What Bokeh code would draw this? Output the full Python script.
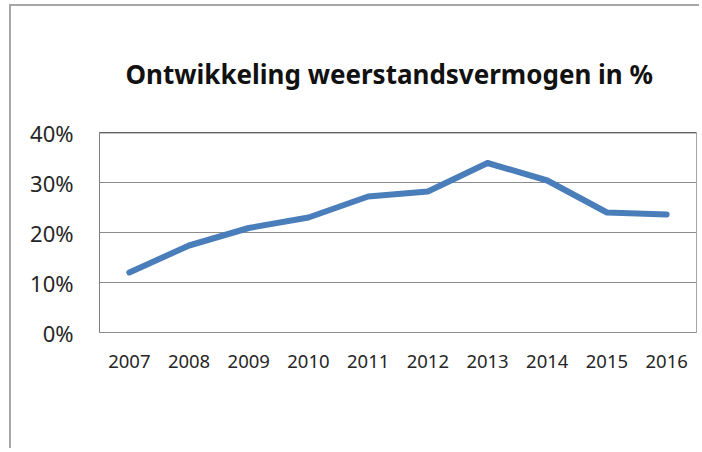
from bokeh.plotting import figure
from bokeh.models import Range1d, FixedTicker, NumeralTickFormatter, Span, ColumnDataSource
from bokeh.embed import file_html
from bokeh.resources import INLINE

years = ["2007", "2008", "2009", "2010", "2011", "2012", "2013", "2014", "2015", "2016"]
values = [0.120, 0.174, 0.209, 0.230, 0.272, 0.282, 0.339, 0.304, 0.240, 0.236]
y_ticks = [0.0, 0.1, 0.2, 0.3, 0.4]
title_text = "Ontwikkeling weerstandsvermogen in %"

src = ColumnDataSource(dict(year=years, value=values))

p = figure(x_range=years, y_range=Range1d(0, 0.40), width=690, height=444,
           output_backend="svg", toolbar_location=None,
           min_border_left=88, min_border_right=5, min_border_top=126, min_border_bottom=118)

p.title.text = title_text
p.title.align = "left"
p.title.text_font = "Noto Sans"
p.title.text_font_size = "26px"
p.title.text_font_style = "bold"
p.title.text_color = "#111111"
p.title.offset = 26
p.title.standoff = 82

p.line("year", "value", source=src, line_color="#4a7ebb", line_width=6,
       line_cap="round", line_join="round")

p.yaxis.ticker = FixedTicker(ticks=y_ticks)
p.yaxis.formatter = NumeralTickFormatter(format="0%")
p.yaxis.major_label_text_font = "Noto Sans"
p.yaxis.major_label_text_font_size = "22px"
p.yaxis.major_label_text_color = "#262626"
p.yaxis.major_label_standoff = 26
p.yaxis.major_tick_out = 0
p.yaxis.major_tick_in = 0
p.yaxis.minor_tick_line_color = None
p.yaxis.axis_line_color = "#7f7f7f"

p.xaxis.major_label_text_font = "Noto Sans"
p.xaxis.major_label_text_font_size = "18.5px"
p.xaxis.major_label_text_color = "#262626"
p.xaxis.major_label_standoff = 22
p.xaxis.major_tick_out = 0
p.xaxis.major_tick_in = 0
p.xaxis.axis_line_color = "#8c8c8c"

p.xgrid.grid_line_color = None
p.ygrid.grid_line_color = "#8c8c8c"
p.ygrid.grid_line_width = 1
p.outline_line_color = "#a6a6a6"
p.outline_line_width = 1

p.add_layout(Span(location=0.40, dimension="width", line_color="#1a1a1a", line_width=1.5))

p.background_fill_color = "white"
p.border_fill_color = "white"
p.styles = {"border-left": "2px solid #a6a6a6", "border-top": "2px solid #a6a6a6",
            "margin-left": "9px", "margin-top": "4px"}

open("out.html", "w").write(file_html(p, INLINE))
